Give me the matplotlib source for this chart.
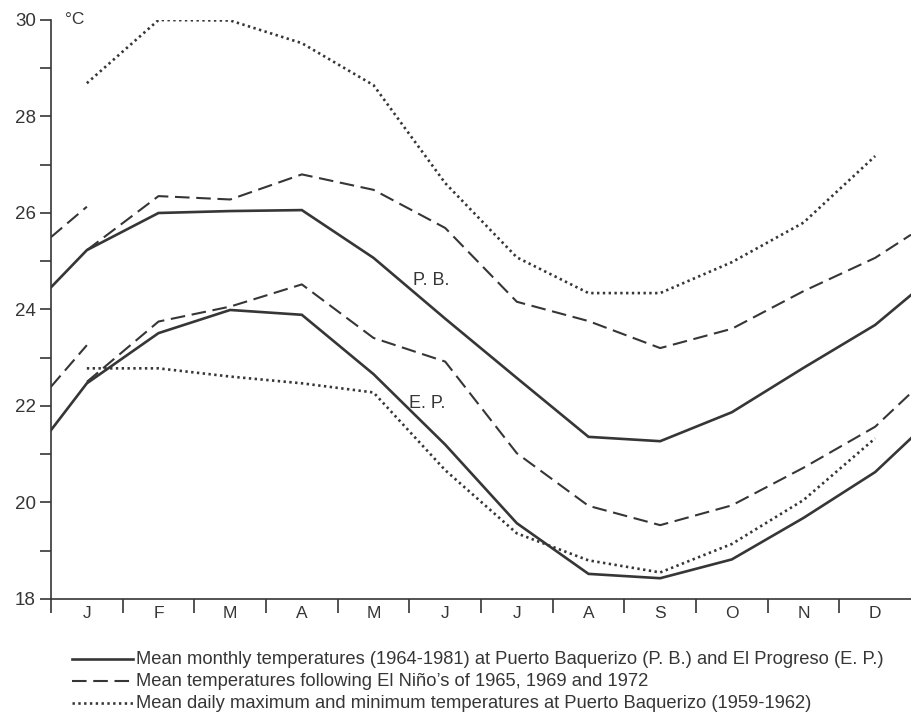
import matplotlib
matplotlib.use("Agg")
import matplotlib.pyplot as plt
from matplotlib.lines import Line2D
import numpy as np

plt.rcParams['font.family'] = ['Liberation Sans', 'DejaVu Sans']

months = ['J', 'F', 'M', 'A', 'M', 'J', 'J', 'A', 'S', 'O', 'N', 'D']

# mean monthly temperatures 1964-1981 (month values, then start/end of year)
pb_mean = [25.23, 26.0, 26.04, 26.06, 25.07, 23.81, 22.58, 21.36, 21.27, 21.87, 22.79, 23.68]
pb_mean_ends = [24.46, 24.3]
ep_mean = [22.47, 23.51, 23.99, 23.89, 22.66, 21.2, 19.57, 18.52, 18.43, 18.82, 19.68, 20.63]
ep_mean_ends = [21.5, 21.33]

# after El Nino years 1965, 1969, 1972
pb_nino = [25.23, 26.35, 26.28, 26.8, 26.48, 25.69, 24.16, 23.76, 23.2, 23.6, 24.38, 25.07]
pb_nino_ends = [25.5, 26.13, 25.55]   # previous dec -> jan, year end
ep_nino = [22.5, 23.75, 24.06, 24.52, 23.41, 22.92, 21.02, 19.93, 19.53, 19.94, 20.72, 21.57]
ep_nino_ends = [22.4, 23.26, 22.27]

# mean daily max / min at Puerto Baquerizo 1959-1962
pb_max = [28.69, 30.0, 29.99, 29.52, 28.65, 26.62, 25.08, 24.34, 24.34, 24.98, 25.8, 27.18]
pb_min = [22.78, 22.78, 22.61, 22.47, 22.28, 20.67, 19.36, 18.8, 18.55, 19.14, 20.05, 21.33]

legend_labels = [
    'Mean monthly temperatures (1964-1981) at Puerto Baquerizo (P. B.) and El Progreso (E. P.)',
    'Mean temperatures following El Niño\u2019s of 1965, 1969 and 1972',
    'Mean daily maximum and minimum temperatures at Puerto Baquerizo (1959-1962)',
]

ink = '#363636'
solid = dict(color=ink, lw=1.9, solid_joinstyle='miter')
dashed = dict(color=ink, lw=1.5, dashes=(7.0, 3.2))
dotted = dict(color=ink, lw=1.9, dashes=(0.9, 1.3))

fig = plt.figure(figsize=(9.11, 7.22), dpi=100)
ax = fig.add_axes([0.056, 0.1704, 0.944, 0.8019])

n = len(months)
xc = np.arange(n) + 0.5
xe = np.concatenate([[0], xc, [n]])

ax.plot(xe, [pb_mean_ends[0]] + pb_mean + [pb_mean_ends[1]], **solid)
ax.plot(xe, [ep_mean_ends[0]] + ep_mean + [ep_mean_ends[1]], **solid)

ax.plot(xc.tolist() + [n], pb_nino + [pb_nino_ends[2]], **dashed)
ax.plot([0, xc[0]], pb_nino_ends[:2], **dashed)
ax.plot(xc.tolist() + [n], ep_nino + [ep_nino_ends[2]], **dashed)
ax.plot([0, xc[0]], ep_nino_ends[:2], **dashed)

ax.plot(xc, pb_max, **dotted)
ax.plot(xc, pb_min, **dotted)

ax.text(5.05, 24.6, 'P. B.', fontsize=13, color=ink, va='center')
ax.text(5.0, 22.05, 'E. P.', fontsize=13, color=ink, va='center')
ax.text(0.2, 30.0, '\u00b0C', fontsize=12.5, color=ink, va='center')

ax.set_xlim(0, n)
ax.set_ylim(18, 30)
for s in ['top', 'right']:
    ax.spines[s].set_visible(False)
for s in ['left', 'bottom']:
    ax.spines[s].set_color(ink)
    ax.spines[s].set_linewidth(1.2)

ax.set_yticks(np.arange(18, 31, 2))
ax.set_yticks(np.arange(19, 30, 2), minor=True)
ax.tick_params(axis='y', which='both', direction='out', length=8, width=1.2,
               color=ink, labelcolor=ink, labelsize=13.5, pad=3)

ax.set_xticks(np.arange(0, n))
ax.set_xticklabels([])
ax.set_xticks(xc, minor=True)
ax.set_xticklabels(months, minor=True)
ax.tick_params(axis='x', which='major', direction='out', length=10, width=1.2, color=ink)
ax.tick_params(axis='x', which='minor', length=0, labelsize=12.5, labelcolor=ink, pad=5)

# legend drawn below the axes
styles = [solid, dashed, dotted]
for i, (lab, st) in enumerate(zip(legend_labels, styles)):
    yf = 1 - (659 + 22 * i) / 722
    fig.add_artist(Line2D([72 / 911, 133 / 911], [yf, yf], transform=fig.transFigure, **st))
    fig.text(136 / 911, yf, lab, fontsize=13.2, color=ink, va='center', ha='left')

fig.savefig('out.png', dpi=100)
